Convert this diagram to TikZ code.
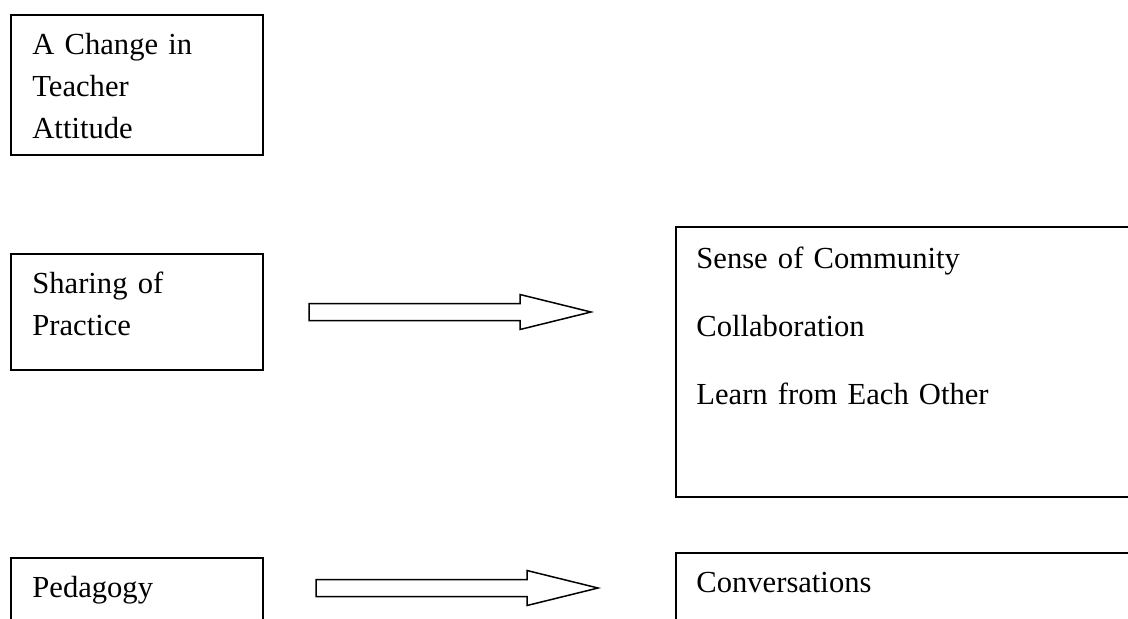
\documentclass[tikz,border=0pt]{standalone}
\usepackage{fontspec}
\setmainfont{Liberation Serif}
\usetikzlibrary{calc}

\newcommand{\blockarrow}[2]{%
  \draw[arrowbody] ($(#1)+(0,-8.5)$) -- ($(#2)+(-71,-8.5)$) -- ($(#2)+(-71,-17.5)$)
    -- (#2) -- ($(#2)+(-71,17.5)$) -- ($(#2)+(-71,8.5)$) -- ($(#1)+(0,8.5)$) -- cycle;}

\begin{document}
\begin{tikzpicture}
[x=0.5pt,y=-0.5pt
,box/.style={draw,line width=1pt,anchor=north west,inner sep=0pt}
,boxtext/.style={anchor=base west,inner sep=0pt,text width=100pt,align=left,font=\fontsize{15.3}{21}\selectfont}
,arrowbody/.style={draw,line width=0.75pt,fill=white}
]
\clip (0,0) rectangle (1128,618);

\node[box,minimum width=126pt,minimum height=70pt](attitude) at (10,14)  {};
\node[box,minimum width=126pt,minimum height=58pt](sharing)  at (10,253) {};
\node[box,minimum width=126pt,minimum height=50pt](pedagogy) at (10,557) {};
\node[box,minimum width=240pt,minimum height=135pt](community) at (675,226) {};
\node[box,minimum width=240pt,minimum height=50pt](talk)      at (675,552) {};

\node[boxtext](attitudetxt) at ([shift={(22,40)}]attitude.north west) {A Change in\\Teacher\\Attitude};
\node[boxtext](sharingtxt)  at ([shift={(22,40)}]sharing.north west)  {Sharing of\\Practice};
\node[boxtext](pedagogytxt) at ([shift={(22,40)}]pedagogy.north west) {Pedagogy};
\node[boxtext,text width=200pt](communitytxt) at ([shift={(21,42)}]community.north west)
  {Sense of Community\\[13pt]Collaboration\\[13pt]Learn from Each Other};
\node[boxtext,text width=200pt](talktxt) at ([shift={(21,40)}]talk.north west) {Conversations};

\coordinate (a1s) at ([shift={(45,0)}]sharing.east);
\coordinate (a1t) at ([shift={(327,0)}]sharing.east);
\coordinate (a2s) at ([shift={(52,31)}]pedagogy.north east);
\coordinate (a2t) at ([shift={(334,31)}]pedagogy.north east);

\blockarrow{a1s}{a1t}
\blockarrow{a2s}{a2t}

\end{tikzpicture}
\end{document}
